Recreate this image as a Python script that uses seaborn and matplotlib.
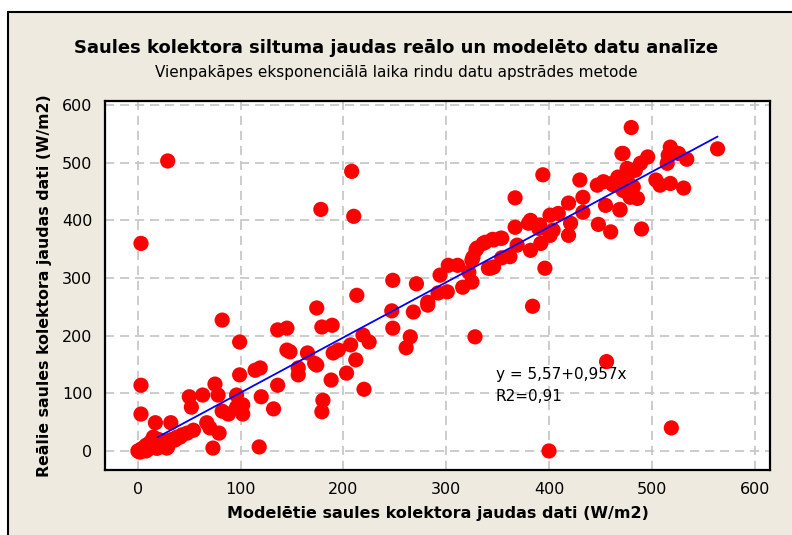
"""Scatter of modelled vs real solar collector power with linear fit."""

import matplotlib.pyplot as plt
import numpy as np
import pandas as pd
import seaborn as sns
from matplotlib.patches import Rectangle

sns.set_style("white")
plt.rcParams["font.family"] = ["DejaVu Sans"]
plt.rcParams["text.color"] = "black"
plt.rcParams["axes.labelcolor"] = "black"

model_x = [
    0, 2, 4, 6, 8, 3, 5, 10, 12, 15, 18, 20, 22, 25, 28, 30, 33, 36, 15, 20,
    12, 8, 27, 24, 38, 43, 48, 54, 17, 32, 2, 19, 29, 41, 1, 7,
    50, 52, 63, 75, 78, 82, 88, 96, 99, 96, 102, 102, 114, 119, 120, 132,
    118, 73, 67, 70, 79, 82, 99, 136, 3, 3, 3, 29,
    136, 145, 145, 148, 156, 156, 165, 172, 174, 174, 179, 189, 188, 180,
    179, 190, 195, 203, 207, 212, 213, 219, 220, 225, 247, 248, 248, 268,
    271, 265, 261, 282, 282, 292, 301, 178, 208, 210,
    294, 302, 311, 316, 322, 325, 329, 336, 346, 353, 341, 346, 354, 362,
    369, 367, 382, 380, 392, 390, 401, 396, 401, 404, 384, 328, 400, 456,
    519, 367, 394, 430, 419, 433, 447, 453, 463, 471, 471, 476, 477, 455,
    469, 433, 448, 460, 419, 421, 409, 391, 382, 343, 326, 325, 330, 338,
    345, 354, 490, 480, 564, 518, 516, 515, 526, 534, 496, 489, 472, 482,
    476, 482, 472, 479, 486, 469, 504, 508, 518, 531, 484, 467, 461,
]
real_y = [
    0, 0, 1, 2, 0, 3, 5, 3, 8, 10, 5, 12, 15, 10, 5, 18, 20, 19, 24, 20,
    15, 10, 16, 14, 24, 28, 31, 36, 49, 49, -2, 5, 7, 24, 0, 4,
    94, 76, 97, 116, 97, 69, 64, 97, 132, 76, 80, 64, 140, 144, 94, 73,
    7, 5, 49, 40, 31, 227, 189, 114, 114, 64, 360, 503,
    210, 213, 175, 172, 144, 132, 170, 152, 149, 248, 215, 218, 123, 88,
    68, 170, 175, 135, 184, 158, 270, 201, 107, 189, 243, 213, 296, 241,
    290, 198, 179, 258, 253, 274, 276, 419, 485, 407,
    305, 322, 322, 284, 310, 331, 349, 360, 366, 369, 317, 319, 335, 337,
    357, 388, 348, 395, 360, 386, 374, 317, 409, 383, 251, 198, 0, 155,
    40, 439, 479, 470, 430, 440, 461, 467, 461, 473, 516, 490, 447, 426,
    419, 414, 393, 380, 374, 395, 412, 392, 400, 317, 336, 293, 352, 362,
    367, 369, 385, 561, 524, 527, 513, 499, 516, 506, 510, 499, 516, 487,
    470, 458, 452, 440, 438, 418, 470, 461, 464, 456, 487, 475, 464,
]

# fitted line: y = 5.57 + 0.957x over the span it is drawn in the reference
fit_intercept = 5.57
fit_slope = 0.957
fit_x = [19, 564]

x_ticks = [0, 100, 200, 300, 400, 500, 600]
y_ticks = [0, 100, 200, 300, 400, 500, 600]

title = "Saules kolektora siltuma jaudas reālo un modelēto datu analīze"
subtitle = "Vienpakāpes eksponenciālā laika rindu datu apstrādes metode"
x_label = "Modelētie saules kolektora jaudas dati (W/m2)"
y_label = "Reālie saules kolektora jaudas dati (W/m2)"
annotation = "y = 5,57+0,957x\nR2=0,91"


def main():
    points = pd.DataFrame({"x": model_x, "y": real_y})
    fit = pd.DataFrame({"x": fit_x})
    fit["y"] = fit_intercept + fit_slope * fit["x"]

    fig = plt.figure(figsize=(7.92, 5.35), dpi=100, facecolor="white")
    fig.patches.append(Rectangle(
        (8 / 792, -0.05), 1.0, 1.05 - 12 / 535, transform=fig.transFigure,
        facecolor="#eeeae0", edgecolor="black", linewidth=1.5, zorder=-10,
    ))
    ax = fig.add_axes([0.1326, 0.1215, 0.8396, 0.6897])
    ax.set_facecolor("white")

    ax.grid(True, color="#c4c4c4", linestyle=(0, (5.5, 3.5)), linewidth=1.2)
    ax.set_axisbelow(True)

    sns.scatterplot(data=points, x="x", y="y", color="#ff0000", edgecolor="none",
                    s=120, ax=ax, zorder=3)
    sns.lineplot(data=fit, x="x", y="y", color="#0000ff", linewidth=1.3, ax=ax, zorder=4)

    ax.set_xlim(-32, 615)
    ax.set_ylim(-33, 607)
    ax.set_xticks(x_ticks)
    ax.set_yticks(y_ticks)
    ax.tick_params(direction="out", length=5, width=1.2, colors="black",
                   labelsize=11.5, pad=4)
    for spine in ax.spines.values():
        spine.set_color("black")
        spine.set_linewidth(1.6)

    ax.set_xlabel(x_label, fontsize=11.5, fontweight="bold", labelpad=6)
    ax.set_ylabel(y_label, fontsize=11.3, fontweight="bold", labelpad=7)

    ax.text(348, 114, annotation, fontsize=11, va="center", ha="left",
            linespacing=1.6, zorder=5)

    fig.text(0.5, 1 - 48 / 535, title, fontsize=13, fontweight="bold",
             ha="center", va="center")
    fig.text(0.5, 1 - 73 / 535, subtitle, fontsize=11, ha="center", va="center")

    fig.savefig("out.png", dpi=100, facecolor=fig.get_facecolor())


if __name__ == '__main__':
    main()
